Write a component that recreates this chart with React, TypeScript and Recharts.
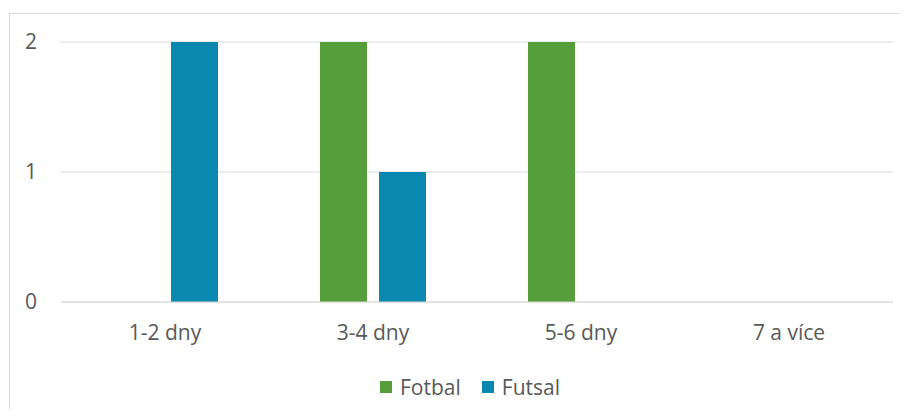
import React from "react";
import { BarChart, Bar, XAxis, YAxis, CartesianGrid } from "recharts";

const categories = ["1-2 dny", "3-4 dny", "5-6 dny", "7 a více"];
const fotbal = [0, 2, 2, 0];
const futsal = [2, 1, 0, 0];
const yTicks = [0, 1, 2];

const GREEN = "#559e3b";
const BLUE = "#0a88b0";
const TEXT = "#595959";
const FONT = "'Open Sans', sans-serif";

const series = [
  { key: "Fotbal", color: GREEN },
  { key: "Futsal", color: BLUE },
];

const data = categories.map((c, i) => ({ name: c, Fotbal: fotbal[i], Futsal: futsal[i] }));

export default function App() {
  return (
    <div style={{ margin: -8, position: "relative", width: 908, height: 417, overflow: "hidden", background: "#fff" }}>
      <div style={{ position: "absolute", left: 9, top: 13, width: 1000, height: 1000, border: "1px solid #d9d9d9" }} />
      <div style={{ position: "absolute", left: 0, top: 0 }}>
        <BarChart
          width={908}
          height={417}
          data={data}
          margin={{ top: 42, right: 15, left: 21, bottom: 75 }}
          barCategoryGap={51}
          barGap={12}
        >
          <CartesianGrid vertical={false} stroke="#d9d9d9" />
          <XAxis
            dataKey="name"
            axisLine={{ stroke: "#d9d9d9" }}
            tickLine={false}
            tickSize={0}
            tickMargin={23}
            height={40}
            tick={{ fontSize: 21, fill: TEXT, fontFamily: FONT }}
          />
          <YAxis
            width={40}
            domain={[0, 2]}
            ticks={yTicks}
            axisLine={false}
            tickLine={false}
            tickSize={0}
            tickMargin={24}
            tick={{ fontSize: 21, fill: TEXT, fontFamily: FONT }}
          />
          {series.map((s) => (
            <Bar key={s.key} dataKey={s.key} fill={s.color} isAnimationActive={false} />
          ))}
        </BarChart>
      </div>
      <div
        style={{
          position: "absolute",
          left: 16,
          top: 374,
          width: 908,
          height: 26,
          display: "flex",
          justifyContent: "center",
          alignItems: "center",
          fontFamily: FONT,
          fontSize: 21,
          color: TEXT,
        }}
      >
        {series.map((s, i) => (
          <div key={s.key} style={{ display: "flex", alignItems: "center", marginLeft: i ? 21 : 0 }}>
            <span style={{ width: 12, height: 12, background: s.color, display: "inline-block", marginRight: 8 }} />
            <span>{s.key}</span>
          </div>
        ))}
      </div>
    </div>
  );
}
